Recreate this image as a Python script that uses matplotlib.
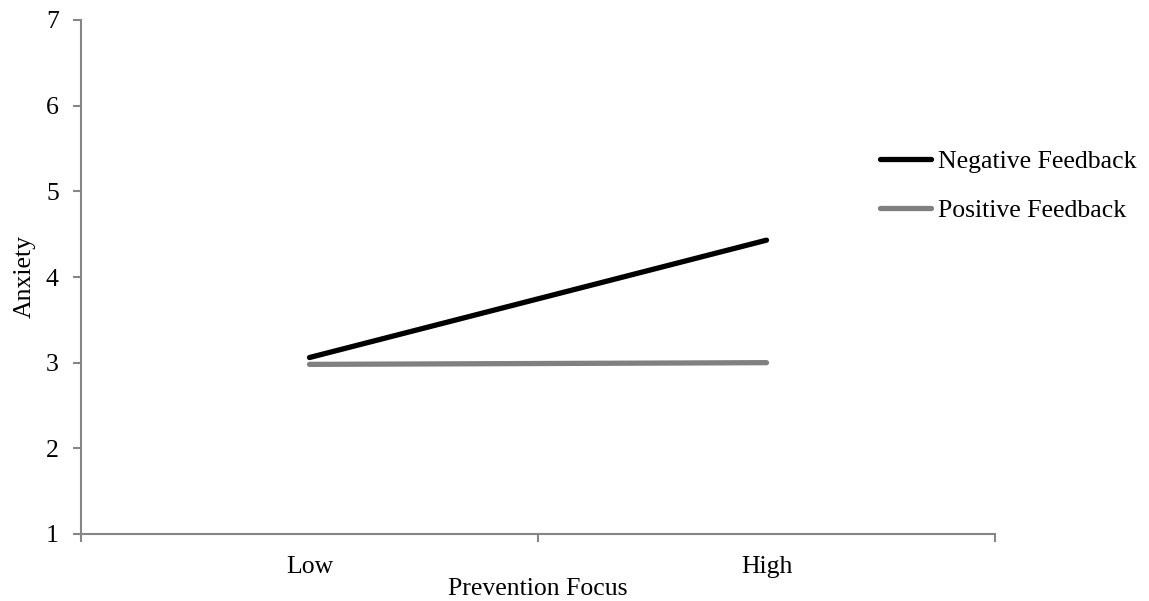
import matplotlib
matplotlib.use("Agg")
import matplotlib.pyplot as plt
from matplotlib.lines import Line2D

categories = ["Low", "High"]
series_names = ["Negative Feedback", "Positive Feedback"]
negative = [3.06, 4.43]
positive = [2.98, 3.00]
yticks = [1, 2, 3, 4, 5, 6, 7]

plt.rcParams['font.family'] = ['Liberation Serif', 'DejaVu Serif']
fs = 18.5
axc = '#868686'

fig = plt.figure(figsize=(11.49, 6.01), dpi=100)
ax = fig.add_axes([81/1149, 1-534/601, (995-81)/1149, (534-20)/601])

x = [1, 2]
ax.plot(x, negative, color='black', lw=3.8, solid_capstyle='round')
ax.plot(x, positive, color='#808080', lw=3.8, solid_capstyle='round')

ax.set_xlim(0.5, 2.5)
ax.set_ylim(1, 7)
ax.set_yticks(yticks)
ax.set_yticklabels([str(v) for v in yticks], fontsize=fs)
ax.set_xticks([0.5, 1.5, 2.5])
ax.set_xticklabels([])
ax.set_xticks(x, minor=True)
ax.set_xticklabels(categories, minor=True, fontsize=fs)
ax.tick_params(axis='x', which='minor', length=0, pad=16)
ax.tick_params(axis='x', which='major', length=6, width=1.5, color=axc, direction='out')
ax.tick_params(axis='y', length=6, width=1.5, color=axc, direction='out', pad=10)

for s in ['top', 'right']:
    ax.spines[s].set_visible(False)
for s in ['left', 'bottom']:
    ax.spines[s].set_color(axc)
    ax.spines[s].set_linewidth(1.5)

ax.set_ylabel("Anxiety", fontsize=fs, labelpad=7)
ax.set_xlabel("Prevention Focus", fontsize=fs, labelpad=0)

handles = [Line2D([], [], color='black', lw=3.8, solid_capstyle='round'),
           Line2D([], [], color='#808080', lw=3.8, solid_capstyle='round')]
fig.legend(handles, series_names, loc='upper left', bbox_to_anchor=(880/1149, 1-150/601),
           frameon=False, fontsize=fs, handlelength=2.0, handletextpad=0.27,
           labelspacing=1.02, borderpad=0, borderaxespad=0)

fig.savefig("out.png", dpi=100)
